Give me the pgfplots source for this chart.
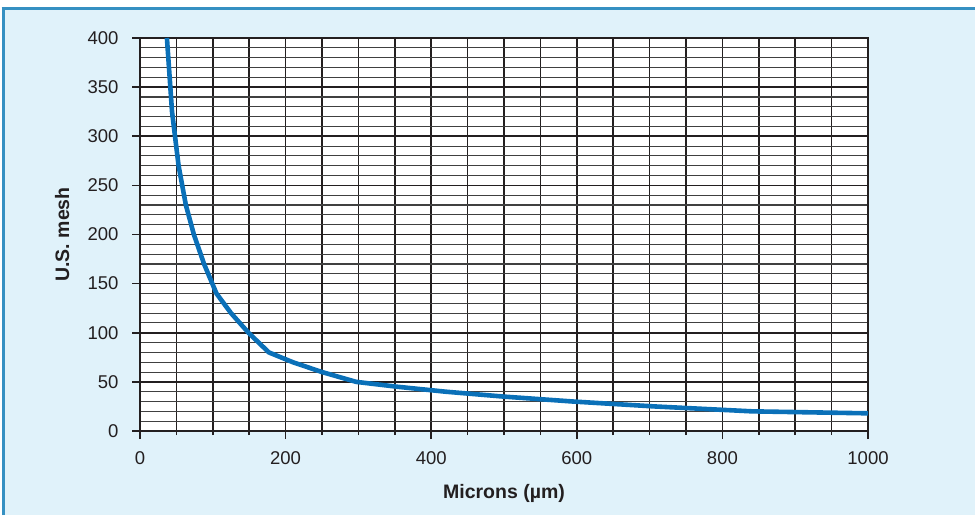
\documentclass[border=0pt]{standalone}
\usepackage{pgfplots}
\pgfplotsset{compat=1.18}
\usepackage{fontspec}
\setmainfont{Liberation Sans}

\definecolor{bgblue}{HTML}{E0F2FA}
\definecolor{frameblue}{HTML}{3590C2}
\definecolor{curveblue}{HTML}{0A70B8}
\definecolor{inkgray}{HTML}{231F20}

\begin{document}
\begin{tikzpicture}[x=1pt,y=1pt]
  \useasboundingbox (0,0) rectangle (975,515);
  \fill[white] (0,0) rectangle (975,515);
  \fill[bgblue] (3,0) rectangle (975,507);
  \draw[frameblue, line width=3pt] (1.5,506.5) -- (975,506.5);
  \draw[frameblue, line width=3pt] (3,0) -- (3,508);

  \begin{axis}[
      at={(140pt,84pt)}, anchor=south west,
      scale only axis,
      width=728pt, height=393pt,
      xmin=0, xmax=1000, ymin=0, ymax=400,
      axis background/.style={fill=white},
      axis line style={inkgray, line width=1.6pt},
      xtick={0,200,...,1000},
      minor xtick={50,100,150,250,300,350,450,500,550,650,700,750,850,900,950},
      ytick={0,50,...,400},
      minor ytick={10,20,30,40,60,70,80,90,110,120,130,140,160,170,180,190,210,220,230,240,260,270,280,290,310,320,330,340,360,370,380,390},
      tick align=outside,
      major tick length=8pt,
      minor tick length=4pt,
      xtick pos=bottom, ytick pos=left,
      every tick/.style={inkgray, line width=1.6pt},
      minor y tick style={draw=none},
      grid=both,
      major grid style={inkgray, line width=1.7pt},
      minor x grid style={inkgray, line width=1.7pt},
      minor y grid style={black!75, line width=1.1pt},
      tick label style={font=\fontsize{18.5}{22}\selectfont, text=inkgray},
      /pgf/number format/assume math mode=true,
      /pgf/number format/1000 sep={},
      x tick label style={yshift=-9pt},
      y tick label style={xshift=-10pt},
      xlabel={Microns (µm)},
      ylabel={U.S. mesh},
      label style={font=\bfseries\fontsize{19.5}{23}\selectfont, text=inkgray},
      xlabel style={at={(axis description cs:0.5,-0.1705)}, anchor=base},
      ylabel style={at={(axis description cs:-0.107,0.5)}, anchor=center},
      clip=true,
    ]
    \addplot[curveblue, line width=4.6pt, line join=round, no markers] coordinates {
      (37,400) (44,325) (53,270) (63,230) (74,200) (88,170) (105,140)
      (125,120) (149,100) (177,80) (210,70) (250,60) (297,50) (354,45)
      (420,40) (500,35) (595,30) (707,25) (841,20) (1000,18)
    };
  \end{axis}
\end{tikzpicture}
\end{document}
